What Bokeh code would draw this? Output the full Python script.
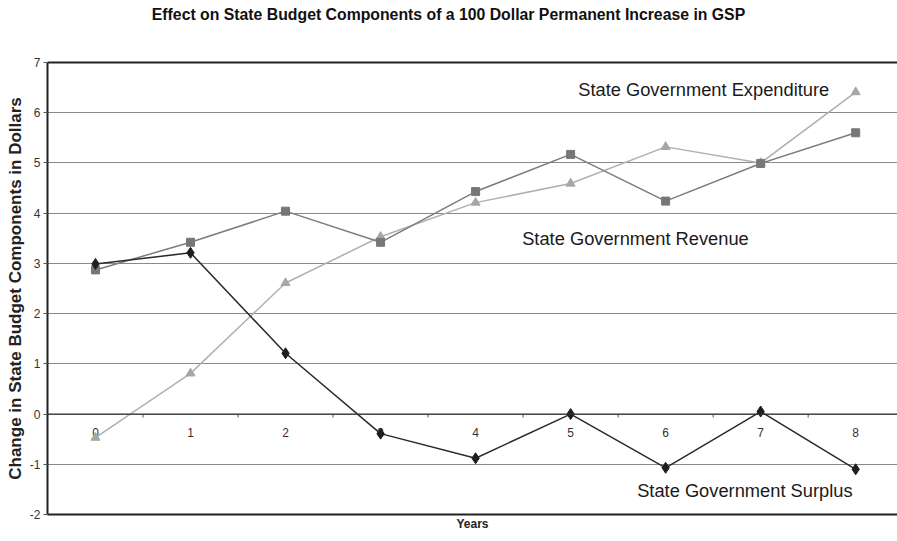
from bokeh.plotting import figure
from bokeh.models import Range1d, FixedTicker, LinearAxis, Span, Label, Grid, Div
from bokeh.layouts import column
from bokeh.core.properties import value
from bokeh.embed import file_html
from bokeh.resources import INLINE

# ---- data ----
years = [0, 1, 2, 3, 4, 5, 6, 7, 8]
year_labels = ["0", "1", "2", "3", "4", "5", "6", "7", "8"]
revenue = [2.87, 3.42, 4.04, 3.42, 4.43, 5.17, 4.24, 4.99, 5.60]
expenditure = [-0.47, 0.81, 2.61, 3.53, 4.21, 4.59, 5.32, 5.00, 6.41]
surplus = [2.99, 3.21, 1.21, -0.39, -0.88, 0.00, -1.07, 0.05, -1.10]
y_ticks = [-2, -1, 0, 1, 2, 3, 4, 5, 6, 7]

FONT = "Liberation Sans"
TITLE = "Effect on State Budget Components of a 100 Dollar Permanent Increase in GSP"

title_div = Div(text=TITLE, width=897, height=30, margin=0,
                styles={"font-family": FONT, "font-size": "15.8px", "font-weight": "bold",
                        "text-align": "center", "line-height": "30px", "color": "#111111",
                        "width": "897px"})

p = figure(width=897, height=511, output_backend="svg", toolbar_location=None,
           x_range=Range1d(-0.505, 8.44), y_range=Range1d(-2, 7),
           x_axis_location=None, y_axis_location=None, margin=0,
           min_border_left=47, min_border_right=0, min_border_top=32, min_border_bottom=27)
p.outline_line_color = None
p.background_fill_color = "white"
p.border_fill_color = "white"
for g in list(p.grid):
    g.visible = False

# left axis
yaxis = LinearAxis(ticker=FixedTicker(ticks=y_ticks),
                   axis_label="Change in State Budget Components in Dollars")
yaxis.major_label_overrides = {t: str(t) for t in y_ticks}
yaxis.axis_line_width = 2
yaxis.axis_line_color = "#222222"
yaxis.major_tick_line_color = "#555555"
yaxis.major_tick_out = 4
yaxis.major_tick_in = 0
yaxis.minor_tick_line_color = None
yaxis.major_label_text_font = FONT
yaxis.major_label_text_font_size = "12px"
yaxis.major_label_text_color = "#333333"
yaxis.major_label_standoff = 3
yaxis.axis_label_text_font = FONT
yaxis.axis_label_text_font_size = "17px"
yaxis.axis_label_text_font_style = "bold"
yaxis.axis_label_text_color = "#222222"
yaxis.axis_label_standoff = 2
p.add_layout(yaxis, "left")

# bottom axis (frame line + "Years")
xaxis = LinearAxis(ticker=FixedTicker(ticks=[]), axis_label="Years")
xaxis.axis_line_width = 2
xaxis.axis_line_color = "#222222"
xaxis.major_tick_line_color = None
xaxis.minor_tick_line_color = None
xaxis.major_label_text_font_size = "0px"
xaxis.axis_label_text_font = FONT
xaxis.axis_label_text_font_size = "12px"
xaxis.axis_label_text_font_style = "bold"
xaxis.axis_label_text_color = "#222222"
xaxis.axis_label_standoff = 2
p.add_layout(xaxis, "below")

# top frame line
topaxis = LinearAxis(ticker=FixedTicker(ticks=[]))
topaxis.axis_line_width = 2
topaxis.axis_line_color = "#222222"
topaxis.major_tick_line_color = None
topaxis.minor_tick_line_color = None
topaxis.major_label_text_font_size = "0px"
p.add_layout(topaxis, "above")

# horizontal grid
grid = Grid(dimension=1, ticker=yaxis.ticker)
grid.grid_line_color = "#8a8a8a"
grid.grid_line_width = 1
p.add_layout(grid)

# zero line acting as category axis
p.add_layout(Span(location=0, dimension="width", line_color="#333333", line_width=1.3))
tick_x = [v + 0.5 for v in years]
p.segment(x0=tick_x, y0=[0] * len(tick_x), x1=tick_x, y1=[-0.07] * len(tick_x),
          line_color="#555555", line_width=1)
p.text(x=years, y=[0] * len(years), text=year_labels, y_offset=18,
       text_align="center", text_baseline="middle",
       text_font=value(FONT), text_font_size="12px",
       text_color="#333333")

# series
p.line(years, expenditure, line_color="#b0b0b0", line_width=1.5)
p.scatter(years, expenditure, marker="triangle", size=9,
          fill_color="#a6a6a6", line_color="#a6a6a6")

p.line(years, revenue, line_color="#7c7c7c", line_width=1.5)
p.scatter(years, revenue, marker="square", size=8,
          fill_color="#777777", line_color="#777777")

p.line(years, surplus, line_color="#2a2a2a", line_width=1.5)
p.scatter(years, surplus, marker="diamond", size=11,
          fill_color="#1e1e1e", line_color="#1e1e1e")

# series labels
for txt, x, y in [("State Government Expenditure", 5.08, 6.46),
                  ("State Government Revenue", 4.49, 3.49),
                  ("State Government Surplus", 5.70, -1.53)]:
    p.add_layout(Label(x=x, y=y, text=txt, text_font=FONT, text_font_size="18.3px",
                       text_color="#1a1a1a", text_baseline="middle", text_align="left"))

layout = column(title_div, p, spacing=0, margin=0)
open("out.html", "w").write(file_html(layout, INLINE))
